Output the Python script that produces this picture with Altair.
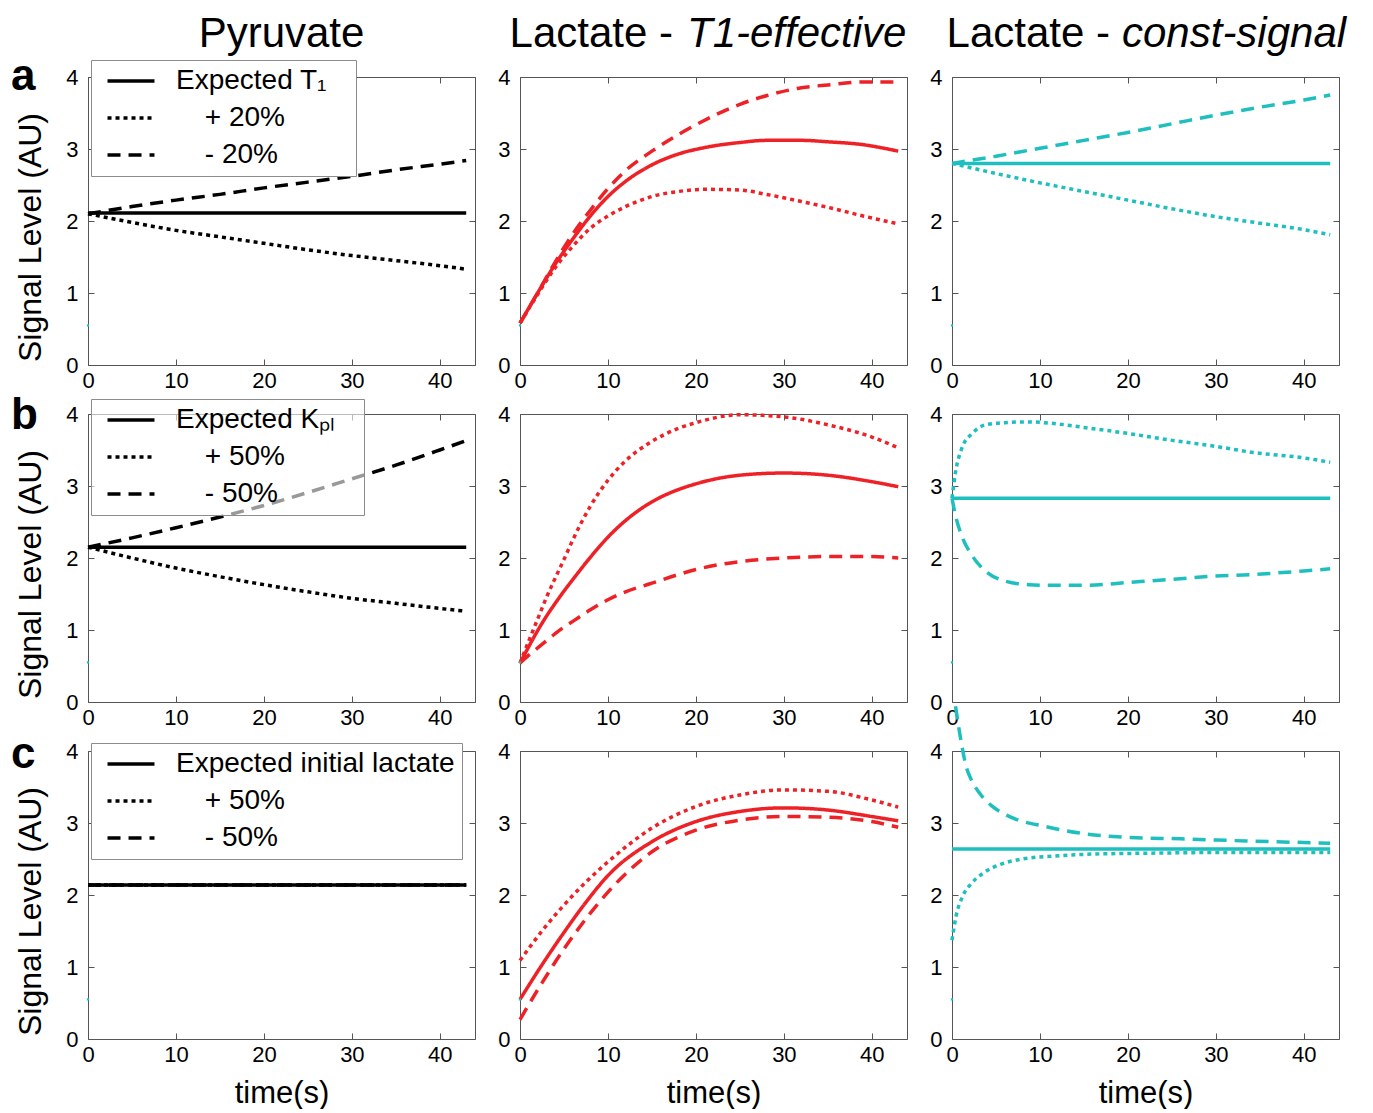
import altair as alt
import pandas as pd

FONT = "Liberation Sans"
BLACK = "#000000"
RED = "#ee2127"
CYAN = "#1fbfbf"
FRAME = "#555555"

# ---------------- text ----------------
header_pyruvate = "Pyruvate"
header_t1 = ["Lactate -", "T1-effective"]
header_cs = ["Lactate -", "const-signal"]
row_letters = ["a", "b", "c"]
x_title = "time(s)"
y_title = "Signal Level (AU)"
x_ticks = [0, 10, 20, 30, 40]
y_ticks = [0, 1, 2, 3, 4]

IND = "\u2800 "        # blank indent of the +/- legend entries
TAIL = "\u2800"        # blank tail widening the legend box
names_a = ["Expected T\u2081" + TAIL, IND + "+ 20%", IND + "- 20%"]
names_b = ["Expected K\u209a\u2097" + TAIL, IND + "+ 50%", IND + "- 50%"]
names_c = ["Expected initial lactate", IND + "+ 50%", IND + "- 50%"]

# stray first-sample marker visible at the left edge of each panel
marker_t = [0]
marker_v = [0.55]

# ---------------- row a : T1 variation ----------------
a_pyr_exp_t = [0, 43]
a_pyr_exp = [2.11, 2.11]
a_pyr_t = [0, 5, 10, 15, 20, 25, 30, 35, 40, 43]
a_pyr_plus = [2.10, 1.98, 1.87, 1.78, 1.69, 1.60, 1.52, 1.45, 1.38, 1.33]
a_pyr_minus = [2.10, 2.20, 2.29, 2.37, 2.46, 2.54, 2.62, 2.71, 2.79, 2.84]

a_t1_t = [0, 2, 4, 6, 8, 10, 12, 15, 18, 21, 25, 28, 32, 35, 39, 43]
a_t1_exp = [0.58, 1.00, 1.40, 1.75, 2.07, 2.34, 2.55, 2.78, 2.93, 3.02, 3.09, 3.12, 3.12, 3.10, 3.06, 2.97]
a_t1_plus = [0.58, 0.98, 1.35, 1.65, 1.90, 2.07, 2.20, 2.34, 2.41, 2.44, 2.43, 2.37, 2.27, 2.19, 2.07, 1.96]
a_t1_minus = [0.58, 1.00, 1.43, 1.82, 2.15, 2.45, 2.70, 2.97, 3.20, 3.40, 3.62, 3.74, 3.85, 3.89, 3.93, 3.93]

a_cs_exp_t = [0, 43]
a_cs_exp = [2.80, 2.80]
a_cs_t = [0, 5, 10, 15, 20, 25, 30, 35, 40, 43]
a_cs_plus = [2.80, 2.66, 2.53, 2.41, 2.29, 2.17, 2.06, 1.97, 1.88, 1.81]
a_cs_minus = [2.80, 2.90, 3.01, 3.12, 3.23, 3.35, 3.47, 3.58, 3.68, 3.75]

# ---------------- row b : kPL variation ----------------
b_pyr_exp_t = [0, 43]
b_pyr_exp = [2.15, 2.15]
b_pyr_t = [0, 5, 10, 15, 20, 25, 30, 35, 40, 43]
b_pyr_plus = [2.15, 2.00, 1.86, 1.74, 1.63, 1.53, 1.44, 1.37, 1.30, 1.26]
b_pyr_minus = [2.15, 2.28, 2.42, 2.57, 2.73, 2.91, 3.10, 3.29, 3.50, 3.63]

b_t1_t = [0, 1, 2, 3, 4, 5, 6, 8, 10, 12, 15, 18, 20, 25, 30, 35, 40, 43]
b_t1_exp = [0.54, 0.77, 0.99, 1.19, 1.37, 1.54, 1.70, 2.01, 2.29, 2.52, 2.78, 2.95, 3.03, 3.15, 3.18, 3.15, 3.06, 2.99]
b_t1_plus = [0.54, 0.85, 1.15, 1.45, 1.72, 1.98, 2.25, 2.72, 3.08, 3.35, 3.62, 3.80, 3.88, 3.99, 3.96, 3.85, 3.68, 3.53]
b_t1_minus = [0.54, 0.65, 0.75, 0.85, 0.95, 1.04, 1.12, 1.28, 1.42, 1.53, 1.65, 1.77, 1.84, 1.95, 2.00, 2.02, 2.02, 2.00]

b_cs_exp_t = [0, 43]
b_cs_exp = [2.83, 2.83]
b_cs_t = [0, 0.4, 1.1, 2.3, 3.8, 6, 8.7, 11.4, 15.2, 20, 24.7, 30, 34, 40, 43]
b_cs_plus = [2.83, 3.19, 3.52, 3.73, 3.85, 3.88, 3.89, 3.87, 3.81, 3.73, 3.64, 3.55, 3.47, 3.39, 3.33]
b_cs_minus = [2.83, 2.59, 2.31, 2.03, 1.82, 1.68, 1.63, 1.62, 1.62, 1.66, 1.70, 1.75, 1.77, 1.82, 1.85]

# ---------------- row c : initial lactate variation ----------------
c_pyr_t = [0, 43]
c_pyr_exp = [2.14, 2.14]
c_pyr_plus = [2.14, 2.14]
c_pyr_minus = [2.14, 2.14]

c_t1_t = [0, 2.5, 5, 7.5, 10, 15, 20, 25, 30, 35, 40, 43]
c_t1_exp = [0.55, 1.03, 1.48, 1.90, 2.27, 2.74, 3.02, 3.16, 3.21, 3.18, 3.09, 3.03]
c_t1_plus = [1.09, 1.50, 1.86, 2.18, 2.46, 2.93, 3.23, 3.39, 3.46, 3.44, 3.32, 3.22]
c_t1_minus = [0.27, 0.78, 1.25, 1.67, 2.04, 2.60, 2.90, 3.04, 3.09, 3.08, 3.02, 2.94]

c_cs_exp_t = [0, 43]
c_cs_exp = [2.64, 2.64]
c_cs_plus_t = [0, 0.45, 1.2, 2.2, 3.5, 5.4, 8, 11.5, 16.4, 22, 30, 43]
c_cs_plus = [1.37, 1.70, 1.98, 2.16, 2.30, 2.42, 2.50, 2.54, 2.57, 2.58, 2.59, 2.59]
c_cs_minus_t = [0.4, 1.2, 1.6, 2.2, 3.1, 4.6, 6.9, 10.7, 14.5, 20, 26, 33.5, 43]
c_cs_minus = [4.62, 4.02, 3.79, 3.60, 3.42, 3.23, 3.07, 2.95, 2.86, 2.80, 2.78, 2.75, 2.72]

# ---------------- styling ----------------
W, H = 387, 288
DASHES = [[1, 0], [4, 4], [13, 8]]


def x_axis(show_title):
    kw = dict(orient="bottom", values=x_ticks, domain=False, grid=False, ticks=True,
              tickSize=6, offset=-6, tickColor=FRAME, tickWidth=1,
              labelFont=FONT, labelFontSize=22, labelColor=BLACK, labelPadding=5,
              labelAngle=0, labelOverlap=False, labelFlush=False)
    if show_title:
        kw.update(title=x_title, titleFont=FONT, titleFontSize=31, titleFontWeight="normal",
                  titleColor=BLACK, titlePadding=13)
    else:
        kw["title"] = None
    return alt.Axis(**kw)


def y_axis(show_title):
    kw = dict(orient="left", values=y_ticks, domain=False, grid=False, ticks=True,
              tickSize=6, offset=-6, tickColor=FRAME, tickWidth=1,
              labelFont=FONT, labelFontSize=22, labelColor=BLACK, labelPadding=10,
              labelOverlap=False, labelFlush=False)
    if show_title:
        kw.update(title=y_title, titleFont=FONT, titleFontSize=32, titleFontWeight="normal",
                  titleColor=BLACK, titlePadding=18, titleY=160)
    else:
        kw["title"] = None
    return alt.Axis(**kw)


def tick_axis(orient):
    return alt.Axis(orient=orient, values=x_ticks if orient == "top" else y_ticks,
                    labels=False, title=None, domain=False, grid=False, ticks=True,
                    tickSize=6, offset=-6, tickColor=FRAME, tickWidth=1)


def make_legend(y_off, fill):
    return alt.Legend(
        title=None, orient="none", legendX=3, legendY=y_off, direction="vertical",
        symbolType="M-2.5,0H2.5", symbolSize=353, symbolStrokeWidth=3.5, symbolStrokeColor=BLACK,
        symbolFillColor="transparent",
        symbolOffset=19, labelFont=FONT, labelFontSize=28, labelColor=BLACK, labelOffset=31,
        labelLimit=600, rowPadding=9, padding=7, fillColor=fill, strokeColor="#8c8c8c",
    )


def text_layer(txt, x, y, align, size, weight="normal", style="normal"):
    return alt.Chart(pd.DataFrame({"txt": [txt]})).mark_text(
        align=align, baseline="alphabetic", font=FONT, fontSize=size,
        fontWeight=weight, fontStyle=style, color=BLACK,
    ).encode(x=alt.value(x), y=alt.value(y), text="txt:N")


def panel(series, names, color, legend=None, letter=None, letter_y=13, headers=None,
          show_x_title=False, show_y_title=False):
    rows = []
    for (t, v), n in zip(series, names):
        rows += [{"t": ti, "v": vi, "series": n} for ti, vi in zip(t, v)]
    df = pd.DataFrame(rows)
    xs = alt.Scale(domain=[0, 44], nice=False, zero=False)
    ys = alt.Scale(domain=[0, 4], nice=False, zero=False)
    lines = alt.Chart(df).mark_line(
        color=color, strokeWidth=3.5, strokeCap="butt", interpolate="monotone", clip=False
    ).encode(
        x=alt.X("t:Q", scale=xs, axis=x_axis(show_x_title)),
        y=alt.Y("v:Q", scale=ys, axis=y_axis(show_y_title)),
        strokeDash=alt.StrokeDash("series:N", scale=alt.Scale(domain=names, range=DASHES),
                                  sort=names, legend=legend),
    )
    ticks = alt.Chart(df).mark_line(strokeOpacity=0).encode(
        x=alt.X("t:Q", scale=xs, axis=tick_axis("top")),
        y=alt.Y("v:Q", scale=ys, axis=tick_axis("right")),
    )
    marker = alt.Chart(pd.DataFrame({"t": marker_t, "v": marker_v})).mark_square(
        size=5, color=CYAN, opacity=1
    ).encode(x=alt.X("t:Q", scale=xs, axis=None), y=alt.Y("v:Q", scale=ys, axis=None))
    layers = [lines, ticks, marker]
    if letter:
        layers.append(text_layer(letter, -77, letter_y, "left", 44, weight="bold"))
    if headers:
        for txt, x, align, style in headers:
            layers.append(text_layer(txt, x, -30, align, 42, style=style))
    return alt.layer(*layers).resolve_axis(x="independent", y="independent").properties(width=W, height=H)


# ---------------- panels ----------------
pa1 = panel([(a_pyr_exp_t, a_pyr_exp), (a_pyr_t, a_pyr_plus), (a_pyr_t, a_pyr_minus)], names_a, BLACK,
            legend=make_legend(-17, "#ffffff"), letter=row_letters[0], letter_y=13,
            headers=[(header_pyruvate, W / 2, "center", "normal")], show_y_title=True)
pb1 = panel([(b_pyr_exp_t, b_pyr_exp), (b_pyr_t, b_pyr_plus), (b_pyr_t, b_pyr_minus)], names_b, BLACK,
            legend=make_legend(-15, "rgba(255,255,255,0.6)"), letter=row_letters[1], letter_y=15,
            show_y_title=True)
pc1 = panel([(c_pyr_t, c_pyr_exp), (c_pyr_t, c_pyr_plus), (c_pyr_t, c_pyr_minus)], names_c, BLACK,
            legend=make_legend(-8, "#ffffff"), letter=row_letters[2], letter_y=17,
            show_y_title=True, show_x_title=True)

pa2 = panel([(a_t1_t, a_t1_exp), (a_t1_t, a_t1_plus), (a_t1_t, a_t1_minus)], names_a, RED,
            headers=[(header_t1[0], 153, "right", "normal"), (header_t1[1], 167, "left", "italic")])
pb2 = panel([(b_t1_t, b_t1_exp), (b_t1_t, b_t1_plus), (b_t1_t, b_t1_minus)], names_b, RED)
pc2 = panel([(c_t1_t, c_t1_exp), (c_t1_t, c_t1_plus), (c_t1_t, c_t1_minus)], names_c, RED,
            show_x_title=True)

pa3 = panel([(a_cs_exp_t, a_cs_exp), (a_cs_t, a_cs_plus), (a_cs_t, a_cs_minus)], names_a, CYAN,
            headers=[(header_cs[0], 158, "right", "normal"), (header_cs[1], 170, "left", "italic")])
pb3 = panel([(b_cs_exp_t, b_cs_exp), (b_cs_t, b_cs_plus), (b_cs_t, b_cs_minus)], names_b, CYAN)
pc3 = panel([(c_cs_exp_t, c_cs_exp), (c_cs_plus_t, c_cs_plus), (c_cs_minus_t, c_cs_minus)], names_c, CYAN,
            show_x_title=True)

chart = alt.concat(
    pa1, pa2, pa3, pb1, pb2, pb3, pc1, pc2, pc3,
    columns=3, spacing={"row": 49, "column": 45}, bounds="flush",
).resolve_scale(strokeDash="independent").resolve_legend(strokeDash="independent").properties(
    padding={"left": 2, "top": 4, "right": 5, "bottom": 0}
).configure(font=FONT).configure_view(stroke=FRAME, strokeWidth=1)

chart.save("out.html", embed_options={"renderer": "svg", "actions": False})
